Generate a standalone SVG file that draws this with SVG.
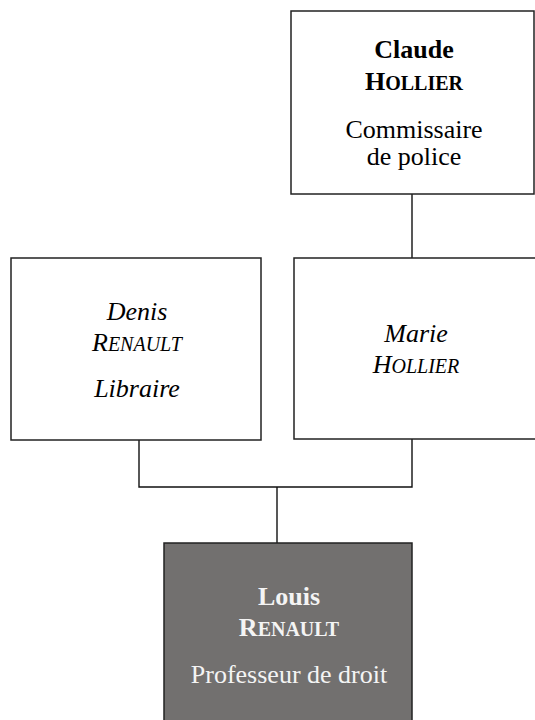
<svg xmlns="http://www.w3.org/2000/svg" width="535" height="720" viewBox="0 0 535 720">
<style>
.box{fill:#ffffff;stroke:#222;stroke-width:1.5}
.dark{fill:#72706f;stroke:#222;stroke-width:1.5}
.t{font-family:"Liberation Serif","Times New Roman",serif;font-size:26px;text-anchor:middle;fill:#000}
.b{font-weight:bold}
.i{font-style:italic}
.w{fill:#f4f4f4}
.sc{font-size:20px}
.conn{fill:none;stroke:#111;stroke-width:1.4}
</style>
<g id="connectors">
<path class="conn" d="M412,194 V258"/>
<path class="conn" d="M139,440 V487 H412 V439"/>
<path class="conn" d="M277,487 V543"/>
</g>
<g id="claude">
<rect class="box" x="291" y="11" width="243" height="183"/>
<text class="t b" x="414" y="58">Claude</text>
<text class="t b" x="414" y="90">H<tspan class="sc">OLLIER</tspan></text>
<text class="t" x="414" y="138">Commissaire</text>
<text class="t" x="414" y="165">de police</text>
</g>
<g id="denis">
<rect class="box" x="11" y="258" width="250" height="182"/>
<text class="t i" x="137" y="320">Denis</text>
<text class="t i" x="137" y="351">R<tspan class="sc">ENAULT</tspan></text>
<text class="t i" x="137" y="397">Libraire</text>
</g>
<g id="marie">
<rect class="box" x="294" y="258" width="245" height="181"/>
<text class="t i" x="416" y="342">Marie</text>
<text class="t i" x="416" y="373">H<tspan class="sc">OLLIER</tspan></text>
</g>
<g id="louis">
<rect class="dark" x="164" y="543" width="248" height="182"/>
<text class="t b w" x="289" y="605">Louis</text>
<text class="t b w" x="289" y="636">R<tspan class="sc">ENAULT</tspan></text>
<text class="t w" x="289" y="683">Professeur de droit</text>
</g>
</svg>
